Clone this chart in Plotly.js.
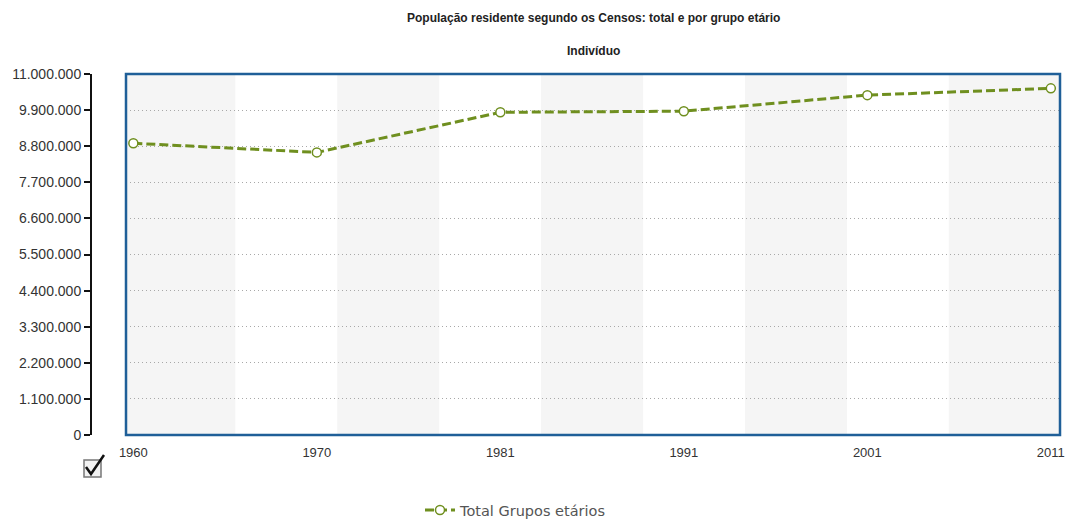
<!DOCTYPE html>
<html>
<head>
<meta charset="utf-8">
<script src="https://cdn.plot.ly/plotly-3.0.1.min.js"></script>
<style>html,body{margin:0;padding:0;background:#fff;}#chart{width:1067px;height:519px;}</style>
</head>
<body>
<div id="chart"></div>
<script>
const years = ["1960", "1970", "1981", "1991", "2001", "2011"];
const totalGrupos = [8889392, 8611125, 9833014, 9867147, 10356117, 10562178];
const seriesName = "Total Grupos etários";
const yTickVals = [0, 1100000, 2200000, 3300000, 4400000, 5500000, 6600000, 7700000, 8800000, 9900000, 11000000];
const bandEdges = [[-0.04, 0.556], [1.111, 1.667], [2.222, 2.778], [3.333, 3.889], [4.444, 5.05]];

const W = 1067, H = 519, ML = 91, MR = 7, MT = 74, MB = 84;
const pw = W - ML - MR, ph = H - MT - MB;
const px = v => (v - ML) / pw;
const py = v => (H - MB - v) / ph;

const shapes = bandEdges.map(b => ({
  type: 'rect', xref: 'x', yref: 'y domain', x0: b[0], x1: b[1], y0: 0, y1: 1,
  fillcolor: '#f5f5f5', line: {width: 0}, layer: 'below'
}));
shapes.push({type: 'rect', xref: 'x domain', yref: 'y domain', x0: 0, x1: 1, y0: 0, y1: 1,
  line: {color: '#1f5f98', width: 2.5}, layer: 'above'});
// checkbox icon
shapes.push({type: 'rect', xref: 'paper', yref: 'paper', x0: px(84), x1: px(101), y0: py(460), y1: py(477),
  line: {color: '#777', width: 1.5}, fillcolor: '#f2f2f2'});
shapes.push({type: 'path', xref: 'paper', yref: 'paper',
  path: `M ${px(86)} ${py(467)} L ${px(91)} ${py(474)} L ${px(104)} ${py(455)}`,
  line: {color: '#111', width: 2.5}});

const trace = {
  x: years, y: totalGrupos, name: seriesName, type: 'scatter', mode: 'lines+markers',
  line: {color: '#6f8f1f', width: 3, dash: '9px,4px'},
  marker: {symbol: 'circle', size: 9, color: '#ffffff', line: {color: '#6f8f1f', width: 1.5}},
  cliponaxis: false
};

const layout = {
  width: W, height: H,
  margin: {l: ML, r: MR, t: MT, b: MB, autoexpand: false},
  paper_bgcolor: '#ffffff', plot_bgcolor: '#ffffff',
  separators: ',.',
  showlegend: true,
  font: {family: 'Liberation Sans, Arial, sans-serif', size: 13, color: '#333'},
  xaxis: {
    type: 'category', domain: [(126 - ML) / pw, 1], range: [-0.04, 5.05],
    showgrid: false, zeroline: false, showline: false, ticks: '',
    ticklabelstandoff: 8, automargin: false,
    tickfont: {family: 'Liberation Sans, Arial, sans-serif', size: 13, color: '#333'}
  },
  yaxis: {
    anchor: 'free', position: 0, range: [0, 11000000], automargin: false,
    tickvals: yTickVals, tickformat: ',d',
    showline: true, linecolor: '#111', linewidth: 2,
    ticks: 'outside', ticklen: 6, tickwidth: 2, tickcolor: '#111',
    showgrid: true, gridcolor: '#a8a8a8', griddash: '1px,3px', gridwidth: 1,
    zeroline: false,
    tickfont: {family: 'Liberation Sans, Arial, sans-serif', size: 14, color: '#333'}
  },
  legend: {
    orientation: 'h', x: px(420), xanchor: 'left', y: py(494), yanchor: 'top',
    itemwidth: 30,
    font: {family: 'DejaVu Sans, Verdana, sans-serif', size: 14.5, color: '#555'}
  },
  annotations: [
    {text: '<b>População residente segundo os Censos: total e por grupo etário</b>', xref: 'paper', yref: 'paper',
     x: px(593), y: py(18), xanchor: 'center', yanchor: 'middle', showarrow: false,
     font: {family: 'Liberation Sans, Arial, sans-serif', size: 12, color: '#222'}},
    {text: '<b>Indivíduo</b>', xref: 'paper', yref: 'paper',
     x: px(593), y: py(51), xanchor: 'center', yanchor: 'middle', showarrow: false,
     font: {family: 'Liberation Sans, Arial, sans-serif', size: 12, color: '#222'}}
  ],
  shapes: shapes
};

Plotly.newPlot('chart', [trace], layout, {displayModeBar: false, staticPlot: true});
</script>
</body>
</html>
